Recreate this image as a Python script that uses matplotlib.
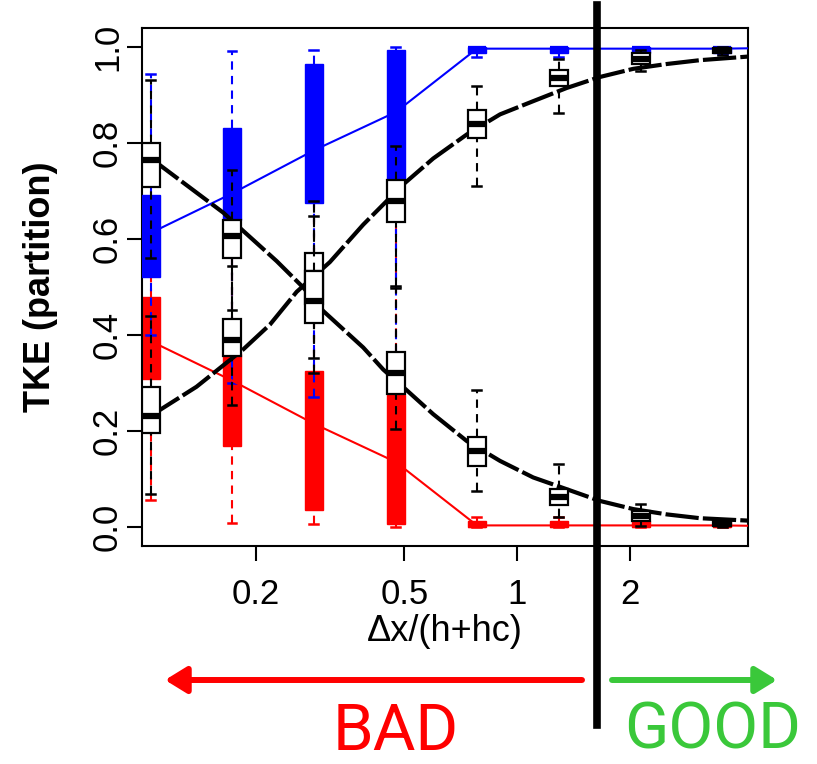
import matplotlib.pyplot as plt
from matplotlib.patches import Rectangle

plt.rcParams['font.family'] = ['Liberation Sans', 'DejaVu Sans']

# box positions along dx/(h+hc)
positions = [0.105, 0.173, 0.2865, 0.4747, 0.7817, 1.295, 2.145, 3.535]

# blue partition (q1, median, q3, lower whisker, upper whisker)
blue_q1 = [0.521, 0.640, 0.676, 0.725, 0.988, 0.988, 0.988, 0.988]
blue_med = [0.613, 0.695, 0.785, 0.865, 0.997, 0.997, 0.997, 0.997]
blue_q3 = [0.691, 0.832, 0.964, 0.995, 1.000, 1.000, 1.000, 1.000]
blue_lo = [0.400, 0.300, 0.271, 0.300, 0.980, 0.980, 0.980, 0.985]
blue_hi = [0.945, 0.993, 0.995, 1.000, 1.000, 1.000, 1.000, 1.000]

# red partition
red_q1 = [0.309, 0.168, 0.036, 0.005, 0.000, 0.000, 0.000, 0.000]
red_med = [0.387, 0.305, 0.215, 0.135, 0.003, 0.003, 0.003, 0.003]
red_q3 = [0.479, 0.360, 0.324, 0.275, 0.012, 0.012, 0.012, 0.012]
red_lo = [0.055, 0.007, 0.005, 0.000, 0.000, 0.000, 0.000, 0.000]
red_hi = [0.600, 0.700, 0.729, 0.700, 0.020, 0.020, 0.020, 0.015]

# white boxes, decreasing set
dec_q1 = [0.708, 0.561, 0.426, 0.277, 0.126, 0.045, 0.012, 0.002]
dec_med = [0.765, 0.607, 0.471, 0.320, 0.158, 0.062, 0.022, 0.006]
dec_q3 = [0.800, 0.639, 0.533, 0.365, 0.188, 0.078, 0.032, 0.012]
dec_lo = [0.560, 0.453, 0.351, 0.205, 0.075, 0.020, 0.002, 0.000]
dec_hi = [0.932, 0.745, 0.680, 0.498, 0.285, 0.130, 0.048, 0.016]

# white boxes, increasing set
inc_q1 = [0.195, 0.356, 0.464, 0.635, 0.810, 0.920, 0.965, 0.988]
inc_med = [0.232, 0.390, 0.530, 0.680, 0.840, 0.935, 0.976, 0.994]
inc_q3 = [0.292, 0.433, 0.571, 0.723, 0.870, 0.953, 0.988, 0.998]
inc_lo = [0.068, 0.255, 0.320, 0.502, 0.710, 0.862, 0.950, 0.983]
inc_hi = [0.440, 0.544, 0.649, 0.795, 0.920, 0.975, 0.995, 1.000]

# lines through the coloured medians (last point at the right edge)
line_x = [0.105, 0.173, 0.2865, 0.4747, 0.7817, 1.295, 2.145, 3.535, 4.4]
blue_line = [0.613, 0.695, 0.785, 0.865, 0.997, 0.997, 0.997, 0.997, 0.998]
red_line = [0.387, 0.305, 0.215, 0.135, 0.003, 0.003, 0.003, 0.003, 0.002]

# fitted curves
dec_cx = [0.105, 0.1106, 0.164, 0.1854, 0.2278, 0.2683, 0.3034, 0.388, 0.439,
          0.507, 0.597, 0.734, 0.901, 1.105, 1.358, 1.667, 2.047, 2.514, 3.086, 4.4]
dec_cy = [0.765, 0.755, 0.655, 0.617, 0.554, 0.499, 0.450, 0.374, 0.328,
          0.285, 0.235, 0.179, 0.1375, 0.103, 0.0785, 0.054, 0.037, 0.026, 0.018, 0.012]
inc_cx = [0.105, 0.1106, 0.139, 0.1854, 0.2187, 0.2576, 0.316, 0.388, 0.4966,
          0.597, 0.734, 0.901, 1.105, 1.358, 1.667, 2.047, 2.514, 3.086, 4.4]
inc_cy = [0.232, 0.243, 0.292, 0.370, 0.422, 0.490, 0.552, 0.630, 0.714,
          0.768, 0.818, 0.860, 0.8875, 0.915, 0.938, 0.955, 0.965, 0.973, 0.982]

HW = 0.024  # half box width in decades


def draw_box(ax, x, q1, med, q3, lo, hi, face, edge, z, edge_lw):
    left = x * 10 ** -HW
    right = x * 10 ** HW
    sl = x * 10 ** (-HW / 2)
    sr = x * 10 ** (HW / 2)
    ax.plot([x, x], [q3, hi], color=edge, lw=1.5, ls=(0, (4, 3)), zorder=z)
    ax.plot([x, x], [lo, q1], color=edge, lw=1.5, ls=(0, (4, 3)), zorder=z)
    ax.plot([sl, sr], [hi, hi], color=edge, lw=1.8, zorder=z)
    ax.plot([sl, sr], [lo, lo], color=edge, lw=1.8, zorder=z)
    ax.add_patch(Rectangle((left, q1), right - left, q3 - q1, facecolor=face,
                           edgecolor=edge, lw=edge_lw, zorder=z))
    ax.plot([left, right], [med, med], color=edge, lw=4.5,
            solid_capstyle='butt', zorder=z)


fig = plt.figure(figsize=(8.17, 7.64), dpi=100)
ax = fig.add_axes([0.1738, 0.2853, 0.7417, 0.678])
ax.set_xscale('log')

for i, x in enumerate(positions):
    draw_box(ax, x, red_q1[i], red_med[i], red_q3[i], red_lo[i], red_hi[i],
             '#ff0000', '#ff0000', 2, 1)
for i, x in enumerate(positions):
    draw_box(ax, x, blue_q1[i], blue_med[i], blue_q3[i], blue_lo[i], blue_hi[i],
             '#0000ff', '#0000ff', 3, 1)

ax.plot(line_x, blue_line, color='#0000ff', lw=1.5, zorder=4)
ax.plot(line_x, red_line, color='#ff0000', lw=1.5, zorder=4)

ax.plot(dec_cx, dec_cy, color='black', lw=3, ls=(0, (8, 1)), zorder=5)
ax.plot(inc_cx, inc_cy, color='black', lw=3, ls=(0, (8, 1)), zorder=5)

for i, x in enumerate(positions):
    draw_box(ax, x, inc_q1[i], inc_med[i], inc_q3[i], inc_lo[i], inc_hi[i],
             'white', 'black', 6, 1.6)
for i, x in enumerate(positions):
    draw_box(ax, x, dec_q1[i], dec_med[i], dec_q3[i], dec_lo[i], dec_hi[i],
             'white', 'black', 7, 1.6)

ax.set_xlim(0.0994, 4.146)
ax.set_ylim(-0.04, 1.04)

ax.set_xticks([0.2, 0.5, 1, 2])
ax.set_xticklabels(['0.2', '0.5', '1', '2'])
ax.minorticks_off()
ax.set_yticks([0.0, 0.2, 0.4, 0.6, 0.8, 1.0])
ax.set_yticklabels(['0.0', '0.2', '0.4', '0.6', '0.8', '1.0'], rotation=90,
                   va='center')
ax.tick_params(axis='both', labelsize=25, width=1.5, length=11, direction='out')
ax.tick_params(axis='x', pad=12)
ax.tick_params(axis='y', pad=2)
for s in ax.spines.values():
    s.set_linewidth(1.5)

ax.set_xlabel('\u0394x/(h+hc)', fontsize=26)
ax.xaxis.set_label_coords(0.5, -0.131)
ax.set_ylabel('TKE (partition)', fontsize=26, fontweight='bold')
ax.yaxis.set_label_coords(-0.139, 0.5)

# separation line between the two regimes
ax.axvline(1.636, ymin=-0.3456, ymax=1.0444, color='black', lw=5.5,
           clip_on=False, zorder=10)

ax.annotate('', xy=(165 / 817, 1 - 680 / 764), xytext=(582 / 817, 1 - 680 / 764),
            xycoords='figure fraction', textcoords='figure fraction',
            arrowprops=dict(arrowstyle='-|>,head_length=0.65,head_width=0.4',
                            lw=4.3, color='#ff0000', shrinkA=0, shrinkB=0,
                            mutation_scale=20))
ax.annotate('', xy=(777 / 817, 1 - 680 / 764), xytext=(612 / 817, 1 - 680 / 764),
            xycoords='figure fraction', textcoords='figure fraction',
            arrowprops=dict(arrowstyle='-|>,head_length=0.65,head_width=0.4',
                            lw=4.3, color='#3ac83a', shrinkA=0, shrinkB=0,
                            mutation_scale=20))

fig.text(396 / 817, 1 - 750 / 764, 'BAD', color='#ff0000', fontsize=47,
         ha='center', va='baseline', family=['Roboto', 'DejaVu Sans'])
fig.text(713 / 817, 0.003, 'GOOD', color='#3ac83a', fontsize=47,
         ha='center', va='bottom', family=['Roboto', 'DejaVu Sans'])

fig.savefig('out.png', dpi=100)
print('Saved out.png')
